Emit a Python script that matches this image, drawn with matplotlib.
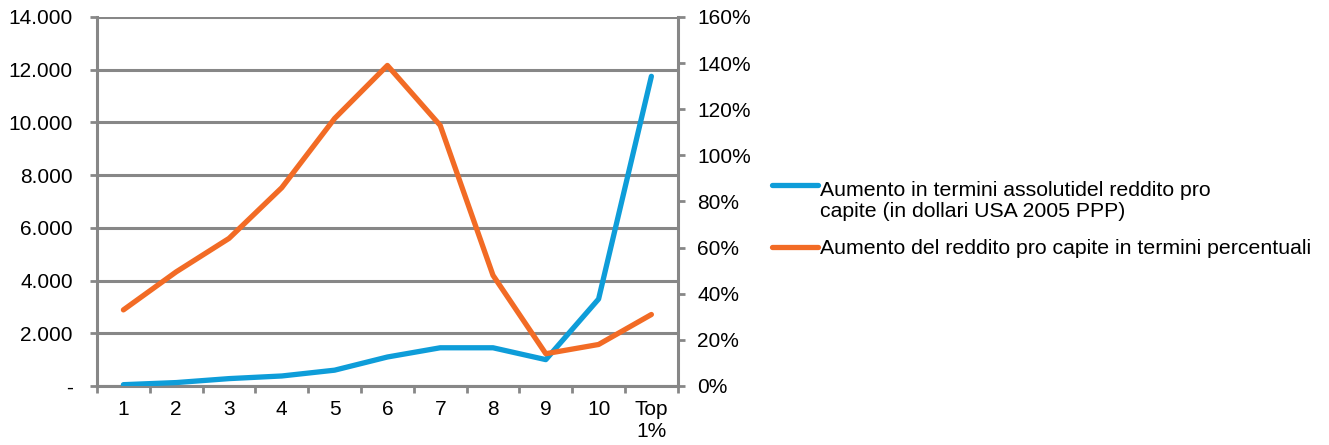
import matplotlib.pyplot as plt
from matplotlib.lines import Line2D
from matplotlib.ticker import FuncFormatter, MultipleLocator

plt.rcParams['font.family'] = ['Liberation Sans', 'DejaVu Sans']

categorie = ['1', '2', '3', '4', '5', '6', '7', '8', '9', '10', 'Top\n1%']
aumento_assoluto = [50, 130, 280, 380, 600, 1100, 1450, 1450, 1000, 3300, 11750]
aumento_perc = [33, 49.5, 64, 86, 116, 139, 113, 48, 14, 18, 31]
etichette = ['Aumento in termini assolutidel reddito pro\ncapite (in dollari USA 2005 PPP)',
             'Aumento del reddito pro capite in termini percentuali']

blu = '#0E9DD9'
arancio = '#F26B25'
grigio = '#878787'

fig = plt.figure(figsize=(13.29, 4.45), dpi=100)
ax = fig.add_axes([0.073, 0.1326, 0.437, 0.8292])
ax2 = ax.twinx()

x = list(range(len(categorie)))
ax.plot(x, aumento_assoluto, color=blu, lw=3.8, solid_capstyle='round', zorder=3)
ax2.plot(x, aumento_perc, color=arancio, lw=3.8, solid_capstyle='round', zorder=3)

ax.set_xlim(-0.5, len(categorie) - 0.5)
ax.set_ylim(0, 14000)
ax2.set_ylim(0, 160)
ax.yaxis.set_major_locator(MultipleLocator(2000))
ax2.yaxis.set_major_locator(MultipleLocator(20))

def migliaia(v, pos):
    if v == 0:
        return '-'
    return f'{int(v):,}'.replace(',', '.')

ax.yaxis.set_major_formatter(FuncFormatter(migliaia))
ax2.yaxis.set_major_formatter(FuncFormatter(lambda v, p: f'{int(v)}%'))

ax.yaxis.grid(True, color=grigio, lw=2.2)
ax.set_axisbelow(True)

# tick in basso ai bordi delle categorie, etichette al centro
ax.set_xticks([i - 0.5 for i in range(len(categorie) + 1)])
ax.set_xticklabels([])
ax.set_xticks(x, minor=True)
ax.set_xticklabels(categorie, minor=True, linespacing=1.2)
ax.tick_params(axis='x', which='minor', length=0, pad=10, labelsize=15)
ax.tick_params(axis='x', which='major', length=5, width=2, color=grigio)
ax.tick_params(axis='y', length=5, width=2, color=grigio, labelsize=15, pad=12.5)
ax2.tick_params(axis='y', length=5, width=2, color=grigio, labelsize=15, pad=9)

for a in (ax, ax2):
    for s in a.spines.values():
        s.set_visible(False)
ax.spines['left'].set_visible(True)
ax.spines['bottom'].set_visible(True)
ax2.spines['right'].set_visible(True)
for s in (ax.spines['left'], ax.spines['bottom'], ax2.spines['right']):
    s.set_color(grigio)
    s.set_linewidth(2.2)

# legenda a destra del grafico
W, H = 1329, 445
fig.add_artist(Line2D([772 / W, 818 / W], [1 - 185 / H] * 2,
                      color=blu, lw=3.8, solid_capstyle='round'))
fig.text(820 / W, 1 - 201 / H, etichette[0], fontsize=15.3, va='center',
         ha='left', linespacing=1.1)
fig.add_artist(Line2D([772 / W, 818 / W], [1 - 247 / H] * 2,
                      color=arancio, lw=3.8, solid_capstyle='round'))
fig.text(820 / W, 1 - 249 / H, etichette[1], fontsize=15.3, va='center',
         ha='left')

fig.savefig('out.png', dpi=100)
